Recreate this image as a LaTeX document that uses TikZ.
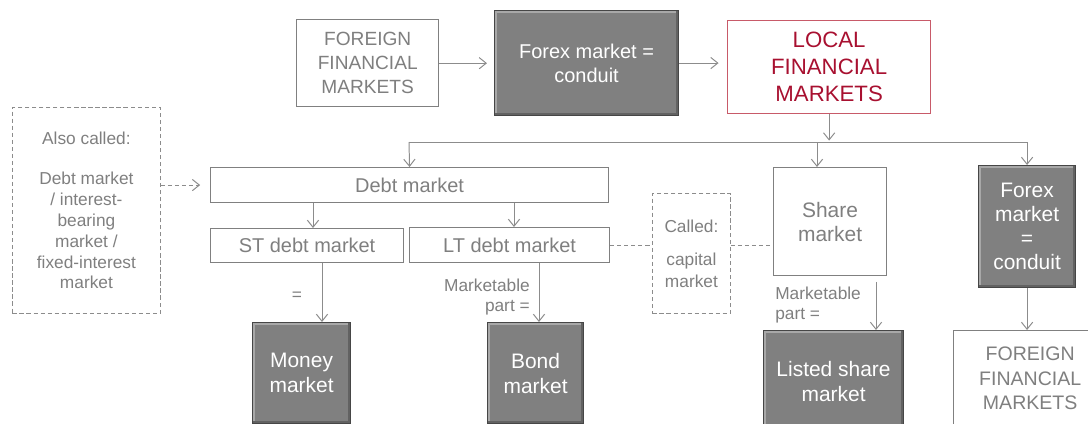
\documentclass[tikz,border=0pt]{standalone}
\usepackage{fontspec}
\setmainfont{Liberation Sans}
\usetikzlibrary{arrows.meta,calc}

\definecolor{txtgray}{RGB}{127,127,127}
\definecolor{linegray}{RGB}{140,140,140}
\definecolor{boxgray}{RGB}{128,128,128}
\definecolor{darkfill}{RGB}{128,128,128}
\definecolor{darkedge}{RGB}{70,70,70}
\definecolor{bevelhi}{RGB}{168,168,168}
\definecolor{localred}{RGB}{168,16,48}
\definecolor{localedge}{RGB}{200,90,105}
\def\pxu{0.025cm}

\tikzset{
  box/.style={rectangle, anchor=north west, inner sep=0pt, align=center, text=txtgray},
  sz/.style 2 args={minimum width=#1*\pxu, minimum height=#2*\pxu},
  whitebox/.style={box, draw=boxgray, line width=1pt, fill=white},
  thinbox/.style={box, draw=boxgray, line width=0.8pt},
  darkbox/.style={box, fill=darkfill, draw=darkedge, line width=0.8pt, text=white,
    path picture={
      \draw[bevelhi, line width=4pt] (path picture bounding box.south west) -- (path picture bounding box.north west) -- (path picture bounding box.north east);
      \draw[darkedge!85, line width=4pt] (path picture bounding box.north east) -- (path picture bounding box.south east) -- (path picture bounding box.south west);}},
  localbox/.style={box, draw=localedge, line width=0.9pt, text=localred},
  dashbox/.style={box, draw=linegray, line width=0.6pt, dash pattern=on 3pt off 2pt},
  conn/.style={draw=linegray, line width=0.7pt},
  arr/.style={conn, -{Straight Barb[length=5pt,width=8pt]}},
  dashconn/.style={conn, dash pattern=on 3pt off 2pt},
  lbl/.style={inner sep=0pt, text=txtgray, font=\fontsize{12.3}{14.2}\selectfont},
}

\begin{document}
\begin{tikzpicture}[x=0.025cm, y=-0.025cm]
  %%%%% START %%%%%
  \useasboundingbox (0,0) rectangle (1088,423);

  % top row
  \node[whitebox, sz={142}{87}, font=\fontsize{13.6}{17.1}\selectfont] (fgnA) at (296,19) {FOREIGN\\FINANCIAL\\MARKETS};
  \node[darkbox, sz={184}{105}, font=\fontsize{14.2}{17.1}\selectfont] (fxA) at (494,10) {Forex market =\\conduit};
  \node[localbox, sz={203}{93}, font=\fontsize{15.8}{19.2}\selectfont] (local) at (727,20) {LOCAL\\FINANCIAL\\MARKETS};

  % debt side
  \node[dashbox, sz={148}{206}, font=\fontsize{12.3}{14.8}\selectfont] (also) at (12,107) {Also called:\\[14pt]Debt market\\/ interest-\\bearing\\market /\\fixed-interest\\market};
  \node[thinbox, sz={398}{35}, font=\fontsize{14.2}{17}\selectfont] (debt) at (210,167) {Debt market};
  \node[thinbox, sz={193}{34}, font=\fontsize{14.2}{17}\selectfont] (st) at (210,228) {ST debt market};
  \node[thinbox, sz={200}{35}, font=\fontsize{14.2}{17}\selectfont] (lt) at (409,227) {LT debt market};
  \node[dashbox, sz={78}{120}, font=\fontsize{12.3}{15.6}\selectfont] (called) at (652,193) {Called:\\[8pt]capital\\market};

  % share and forex side
  \node[thinbox, sz={113}{108}, font=\fontsize{14.9}{17.1}\selectfont] (share) at (773,167) {Share\\market};
  \node[darkbox, sz={97}{122}, font=\fontsize{14.9}{17.1}\selectfont] (fxB) at (978,165) {Forex\\market\\=\\conduit};

  % bottom row
  \node[darkbox, sz={98}{101}, font=\fontsize{14.9}{17.8}\selectfont] (money) at (252,322) {Money\\market};
  \node[darkbox, sz={96}{101}, font=\fontsize{14.9}{17.8}\selectfont] (bond) at (487,322) {Bond\\market};
  \node[darkbox, sz={140}{102}, font=\fontsize{14.9}{17.8}\selectfont] (listed) at (763,330) {Listed share\\market};
  \node[whitebox, sz={153}{96}, font=\fontsize{13.9}{17.4}\selectfont] (fgnB) at (953,330) {FOREIGN\\FINANCIAL\\MARKETS};

  % labels
  \node[lbl] (eqMoney) at (297,296) {=};
  \node[lbl, anchor=east, align=right] (mkBond) at (530,297) {Marketable\\part =};
  \node[lbl, anchor=west, align=left] (mkListed) at (775,305) {Marketable\\part =};

  % connectors
  \coordinate (busL) at (409,142);
  \coordinate (shareIn) at (817,167);
  \coordinate (stIn) at (313,228);
  \coordinate (ltIn) at (514,227);
  \coordinate (moneyIn) at (322,322);
  \coordinate (bondIn) at (539,322);
  \coordinate (listedIn) at (876,330);

  \draw[arr, shorten >=5pt] (fgnA.east) -- (fgnA.east -| fxA.west);
  \draw[arr, shorten >=6pt] (fxA.east) -- (fxA.east -| local.west);
  \draw[arr, shorten >=1pt] (local.south) -- (local.south |- busL);
  \draw[conn] (busL) -- (busL -| fxB.north);
  \draw[arr] (busL) -- (debt.north);
  \draw[arr] (shareIn |- busL) -- (shareIn);
  \draw[arr] (busL -| fxB.north) -- (fxB.north);

  \draw[arr, dash pattern=on 3pt off 2pt, shorten >=7pt] (debt.west -| also.east) -- (debt.west);
  \draw[arr] (stIn |- debt.south) -- (stIn);
  \draw[arr] (ltIn |- debt.south) -- (ltIn);
  \draw[arr] (moneyIn |- st.south) -- (moneyIn);
  \draw[arr] (bondIn |- lt.south) -- (bondIn);
  \draw[arr, shorten <=4pt] (listedIn |- share.south) -- (listedIn);
  \draw[arr] (fxB.south) -- (fxB.south |- fgnB.north);

  \draw[dashconn] (lt.east) -- (lt.east -| called.west);
  \draw[dashconn] (lt.east -| called.east) -- (lt.east -| share.west);
  %%%%% END %%%%%
\end{tikzpicture}
\end{document}
